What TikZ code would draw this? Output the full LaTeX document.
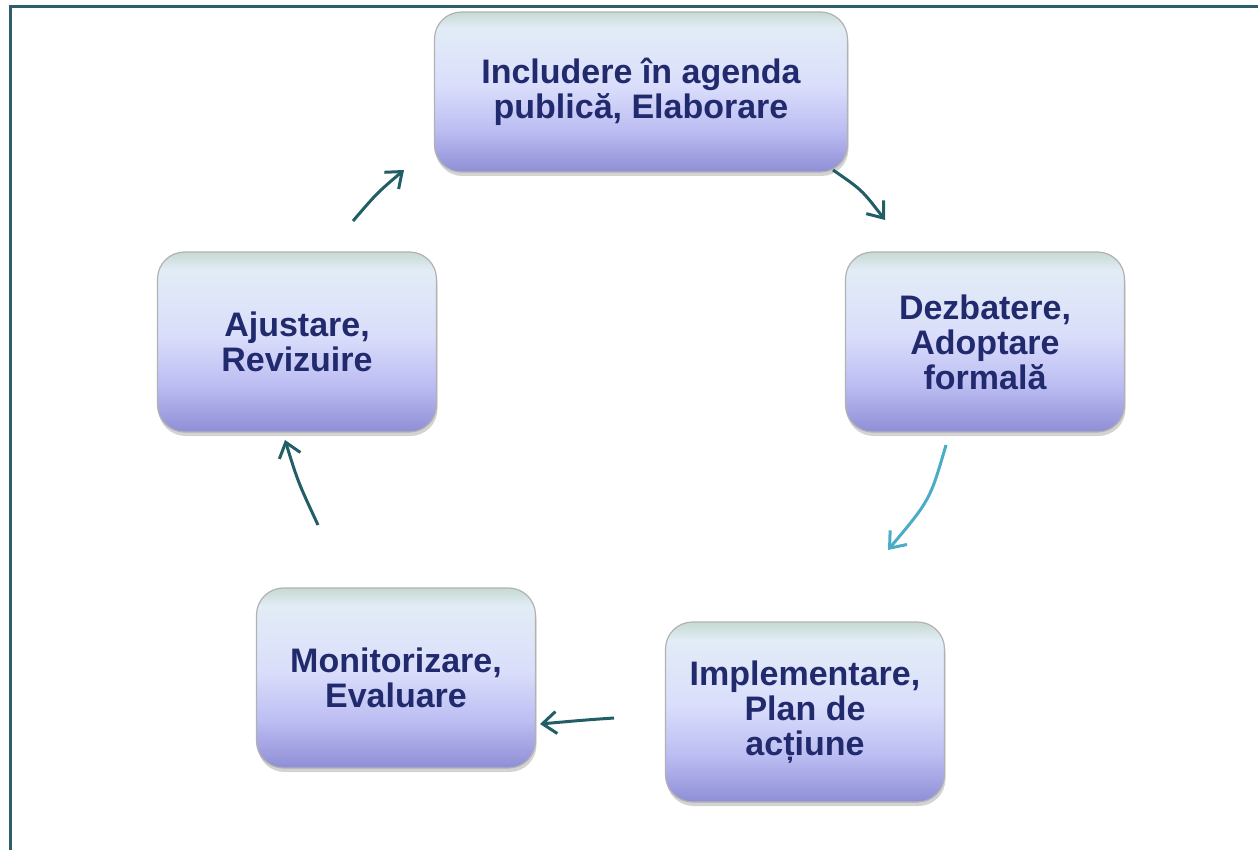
\documentclass[tikz,border=0pt]{standalone}
\usepackage{fontspec}
\setmainfont{Liberation Sans}
\usetikzlibrary{arrows.meta,shadows,shapes.misc}
\definecolor{frameC}{HTML}{2F5E6B}
\definecolor{txtC}{HTML}{222A6E}
\definecolor{arrC}{HTML}{215E66}
\definecolor{arrL}{HTML}{4BACC6}
\definecolor{shB}{HTML}{8E8ED6}
\definecolor{shM}{HTML}{BCBDF2}
\definecolor{shL}{HTML}{DADEFB}
\definecolor{shT}{HTML}{E2ECF6}
\definecolor{shG}{HTML}{C6DAD2}
\pgfdeclareverticalshading{boxshade}{100bp}{color(0bp)=(shB); color(25bp)=(shB); color(38bp)=(shM); color(52bp)=(shL); color(70bp)=(shT); color(75bp)=(shG); color(100bp)=(shG)}
\tikzset{
  stagebox/.style={rounded corners=27pt, shading=boxshade, draw=gray!60, line width=1.2pt,
    drop shadow={opacity=0.35, shadow xshift=1pt, shadow yshift=-4pt},
    text=txtC, font=\fontsize{34}{35}\selectfont\bfseries, align=center,
    minimum width=279pt, minimum height=180pt, inner sep=0pt},
  cyc/.style={draw=arrC, line width=3pt, -{Straight Barb[length=14pt,width=22pt]}},
  cycl/.style={draw=arrL, line width=3pt, -{Straight Barb[length=14pt,width=22pt]}}
}
\begin{document}
\begin{tikzpicture}[x=1pt,y=-1pt]
\useasboundingbox (0,0) rectangle (1258,850);
\draw[frameC, line width=3pt] (10,875) -- (10,7) -- (1275,7);
\node[stagebox, minimum width=413pt, minimum height=160pt] (n1) at (641,92) {Includere în agenda\\publică, Elaborare};
\node[stagebox] (n2) at (985,342) {Dezbatere,\\Adoptare\\formală};
\node[stagebox] (n3) at (805,712) {Implementare,\\Plan de\\acțiune};
\node[stagebox] (n4) at (396,678) {Monitorizare,\\Evaluare};
\node[stagebox] (n5) at (297,342) {Ajustare,\\Revizuire};
\coordinate (a1s) at (833,170); \coordinate (a1e) at (885,220);
\coordinate (a2s) at (946,445); \coordinate (a2e) at (888,550);
\coordinate (a3s) at (614,718); \coordinate (a3e) at (540,724);
\coordinate (a4s) at (318,525); \coordinate (a4e) at (285,440);
\coordinate (a5s) at (353,221); \coordinate (a5e) at (404,170);
\draw[cyc] (a1s) .. controls (862,190) .. (a1e);
\draw[cycl] (a2s) .. controls (930,500) .. (a2e);
\draw[cyc] (a3s) .. controls (585,720) .. (a3e);
\draw[cyc] (a4s) .. controls (298,482) .. (a4e);
\draw[cyc] (a5s) .. controls (377,193) .. (a5e);
\end{tikzpicture}
\end{document}
